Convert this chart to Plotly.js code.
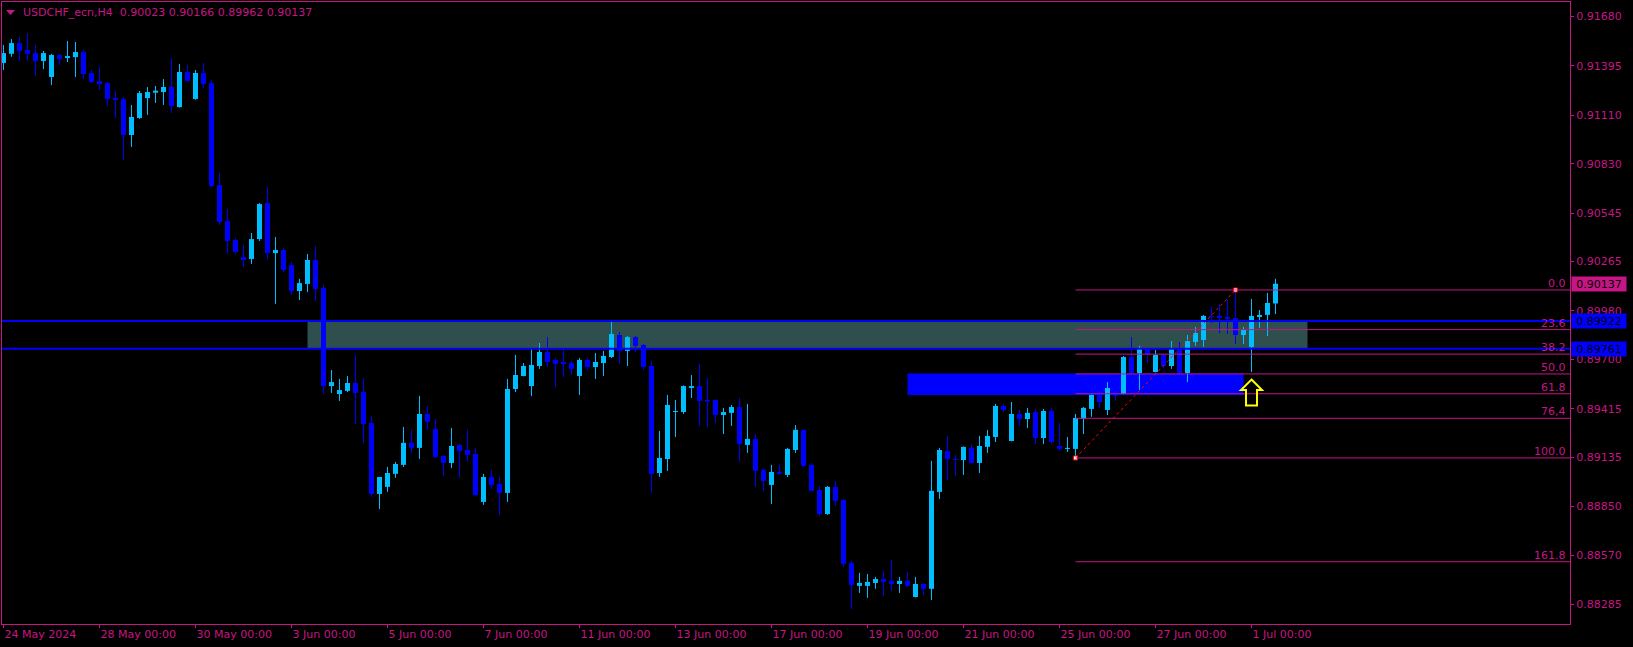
<!DOCTYPE html>
<html><head><meta charset="utf-8">
<script src="https://cdn.plot.ly/plotly-3.0.1.min.js"></script>
<style>html,body{margin:0;padding:0;background:#000;} #chart{width:1633px;height:647px;}</style>
</head><body><div id="chart"></div>
<script>
const symbolName = "USDCHF_ecn,H4";

const opens = [0.91412,0.91465,0.91527,0.91487,0.91469,0.91423,0.91331,0.91458,0.91440,0.91446,
0.91475,0.91354,0.91307,0.91296,0.91209,0.91204,0.90996,0.91094,0.91209,0.91240,
0.91244,0.91273,0.91157,0.91360,0.91204,0.91354,0.91296,0.90707,0.90499,0.90389,
0.90291,0.90280,0.90395,0.90603,0.90314,0.90332,0.90245,0.90095,0.90136,0.90274,
0.90112,0.89546,0.89500,0.89518,0.89564,0.89512,0.89333,0.88923,0.88964,0.89039,
0.89091,0.89218,0.89189,0.89385,0.89298,0.89143,0.89102,0.89206,0.89177,0.89154,
0.88877,0.89021,0.88981,0.88929,0.89529,0.89604,0.89546,0.89662,0.89743,0.89697,
0.89685,0.89679,0.89604,0.89697,0.89656,0.89679,0.89714,0.89841,0.89749,0.89829,
0.89783,0.89662,0.89044,0.89125,0.89396,0.89396,0.89535,0.89546,0.89466,0.89466,
0.89379,0.89391,0.89425,0.89206,0.89241,0.89062,0.88975,0.89050,0.89033,0.89177,
0.89293,0.89091,0.88946,0.88807,0.88964,0.88888,0.88525,0.88392,0.88392,0.88409,
0.88432,0.88421,0.88403,0.88421,0.88328,0.88403,0.88375,0.88935,0.89171,0.89125,
0.89119,0.89189,0.89102,0.89195,0.89252,0.89431,0.89229,0.89385,0.89356,0.89396,
0.89246,0.89402,0.89200,0.89183,0.89183,0.89356,0.89414,0.89495,0.89408,0.89512,
0.89500,0.89714,0.89621,0.89760,0.89627,0.89726,0.89662,0.89760,0.89621,0.89801,
0.89812,0.89951,0.89951,0.89945,0.89939,0.89841,0.89772,0.89945,0.89957,0.90023];

const highs = [0.91516,0.91550,0.91562,0.91585,0.91516,0.91481,0.91465,0.91465,0.91539,0.91533,
0.91487,0.91371,0.91389,0.91302,0.91250,0.91215,0.91169,0.91250,0.91273,0.91279,
0.91319,0.91440,0.91406,0.91400,0.91371,0.91412,0.91313,0.90776,0.90569,0.90401,
0.90361,0.90430,0.90603,0.90696,0.90407,0.90343,0.90262,0.90165,0.90309,0.90355,
0.90130,0.89639,0.89587,0.89604,0.89726,0.89593,0.89373,0.89021,0.89079,0.89108,
0.89310,0.89293,0.89489,0.89431,0.89356,0.89145,0.89304,0.89212,0.89293,0.89189,
0.89039,0.89062,0.89021,0.89587,0.89726,0.89679,0.89760,0.89795,0.89829,0.89708,
0.89754,0.89691,0.89708,0.89708,0.89737,0.89749,0.89922,0.89858,0.89835,0.89835,
0.89789,0.89691,0.89287,0.89495,0.89466,0.89550,0.89610,0.89673,0.89593,0.89468,
0.89420,0.89437,0.89477,0.89443,0.89269,0.89068,0.89091,0.89091,0.89189,0.89321,
0.89295,0.89102,0.88969,0.88969,0.88998,0.88894,0.88536,0.88467,0.88461,0.88444,
0.88478,0.88542,0.88444,0.88473,0.88444,0.88409,0.89114,0.89189,0.89258,0.89148,
0.89197,0.89206,0.89258,0.89293,0.89443,0.89443,0.89454,0.89408,0.89420,0.89414,
0.89414,0.89420,0.89333,0.89252,0.89385,0.89425,0.89497,0.89497,0.89569,0.89535,
0.89720,0.89829,0.89778,0.89762,0.89754,0.89731,0.89806,0.89801,0.89841,0.89887,
0.89957,0.90003,0.90021,0.90043,0.90101,0.89887,0.90049,0.89985,0.90084,0.90166];

const lows = [0.91371,0.91448,0.91423,0.91423,0.91336,0.91377,0.91284,0.91400,0.91417,0.91331,
0.91319,0.91296,0.91256,0.91163,0.91094,0.90851,0.90927,0.91089,0.91112,0.91181,
0.91169,0.91123,0.91155,0.91305,0.91200,0.91267,0.90696,0.90476,0.90309,0.90309,
0.90234,0.90251,0.90384,0.90280,0.90021,0.90205,0.90072,0.90043,0.90089,0.90038,
0.89500,0.89506,0.89460,0.89512,0.89327,0.89218,0.88906,0.88836,0.88935,0.89016,
0.89079,0.89160,0.89125,0.89293,0.89131,0.89027,0.89073,0.89016,0.89108,0.88912,
0.88860,0.88952,0.88802,0.88877,0.89512,0.89602,0.89489,0.89645,0.89656,0.89541,
0.89598,0.89610,0.89495,0.89639,0.89587,0.89604,0.89708,0.89673,0.89662,0.89743,
0.89639,0.88929,0.89021,0.89056,0.89252,0.89385,0.89477,0.89316,0.89310,0.89333,
0.89269,0.89316,0.89108,0.89160,0.88964,0.88941,0.88865,0.89033,0.89021,0.89160,
0.89079,0.88939,0.88796,0.88802,0.88854,0.88502,0.88259,0.88351,0.88323,0.88375,
0.88334,0.88363,0.88351,0.88386,0.88326,0.88340,0.88311,0.88894,0.89004,0.89027,
0.89033,0.89100,0.89044,0.89160,0.89223,0.89396,0.89227,0.89316,0.89304,0.89212,
0.89212,0.89212,0.89171,0.89166,0.89131,0.89269,0.89368,0.89420,0.89379,0.89460,
0.89498,0.89616,0.89523,0.89679,0.89625,0.89645,0.89645,0.89616,0.89569,0.89778,
0.89772,0.89910,0.89852,0.89847,0.89789,0.89789,0.89627,0.89881,0.89835,0.89962];

const closes = [0.91469,0.91527,0.91481,0.91465,0.91423,0.91469,0.91458,0.91435,0.91452,0.91475,
0.91348,0.91302,0.91290,0.91204,0.91198,0.90996,0.91100,0.91238,0.91244,0.91252,
0.91273,0.91163,0.91360,0.91307,0.91354,0.91290,0.90701,0.90493,0.90384,0.90320,
0.90274,0.90395,0.90597,0.90314,0.90332,0.90216,0.90095,0.90141,0.90274,0.90107,
0.89546,0.89569,0.89523,0.89564,0.89506,0.89327,0.88923,0.89021,0.89044,0.89096,
0.89218,0.89189,0.89385,0.89339,0.89137,0.89102,0.89200,0.89171,0.89148,0.88917,
0.89021,0.88975,0.88929,0.89529,0.89610,0.89662,0.89668,0.89743,0.89685,0.89673,
0.89673,0.89645,0.89697,0.89656,0.89685,0.89720,0.89847,0.89749,0.89829,0.89778,
0.89656,0.89039,0.89131,0.89437,0.89402,0.89546,0.89546,0.89460,0.89458,0.89379,
0.89396,0.89425,0.89212,0.89241,0.89056,0.88998,0.89050,0.89039,0.89183,0.89293,
0.89085,0.88941,0.88807,0.88964,0.88883,0.88519,0.88398,0.88409,0.88415,0.88432,
0.88415,0.88403,0.88421,0.88392,0.88403,0.88375,0.88941,0.89177,0.89125,0.89119,
0.89195,0.89102,0.89200,0.89258,0.89431,0.89408,0.89385,0.89356,0.89391,0.89246,
0.89402,0.89223,0.89183,0.89189,0.89362,0.89420,0.89495,0.89454,0.89535,0.89489,
0.89714,0.89621,0.89760,0.89731,0.89726,0.89662,0.89760,0.89621,0.89806,0.89852,
0.89951,0.89945,0.89939,0.89933,0.89841,0.89870,0.89951,0.89957,0.90026,0.90137];

const dateTickBars = [0,12,24,36,48,60,72,84,96,108,120,132,144,156];
const dateTickLabels = ["24 May 2024","28 May 00:00","30 May 00:00","3 Jun 00:00","5 Jun 00:00",
  "7 Jun 00:00","11 Jun 00:00","13 Jun 00:00","17 Jun 00:00","19 Jun 00:00","21 Jun 00:00",
  "25 Jun 00:00","27 Jun 00:00","1 Jul 00:00"];

const priceTickVals = [0.91680,0.91395,0.91110,0.90830,0.90545,0.90265,0.89980,0.89700,0.89415,0.89135,0.88850,0.88570,0.88285];
const priceTickText = ["0.91680","0.91395","0.91110","0.90830","0.90545","0.90265","0.89980","0.89700","0.89415","0.89135","0.88850","0.88570","0.88285"];

// horizontal levels and zones
const zoneTop = 0.89922, zoneBottom = 0.89761;
const zoneStartBar = 38, zoneEndBar = 163;
const blueBoxTop = 0.89618, blueBoxBottom = 0.89495;
const blueBoxStartBar = 113, blueBoxEndBar = 155;

// Fibonacci retracement anchored on swing low / swing high bars
const fibLowBar = 134, fibHighBar = 154;
const fibLevels = [0, 23.6, 38.2, 50, 61.8, 76.4, 100, 161.8];
const fibLabels = ["0.0","23.6","38.2","50.0","61.8","76,4","100.0","161.8"];

const signalBar = 156;

// ---------------- drawing ----------------
const PINK = '#C71585';
const BULL = '#00BFFF';
const BEAR = '#0000FF';
const FONT = 'DejaVu Sans';
const xRange = [-0.1875, 195.8125];
const yRange = [0.88172, 0.91764];
const minBody = 0.00006;

const idx = opens.map((_, i) => i);
function candleSet(isBull) {
  const bx = [], bbase = [], bh = [], wx = [], wy = [];
  idx.forEach(i => {
    const up = closes[i] >= opens[i];
    if (up !== isBull) return;
    const lo = Math.min(opens[i], closes[i]);
    const hi = Math.max(opens[i], closes[i]);
    bx.push(i); bbase.push(lo); bh.push(Math.max(hi - lo, minBody));
    wx.push(i, i, null); wy.push(lows[i], highs[i], null);
  });
  return {bx, bbase, bh, wx, wy};
}
const bull = candleSet(true), bear = candleSet(false);

const fibHigh = highs[fibHighBar], fibLow = lows[fibLowBar];
const fibPrices = fibLevels.map(l => fibHigh - (fibHigh - fibLow) * l / 100);

const traces = [
  {type:'scatter', mode:'lines', x:bull.wx, y:bull.wy, line:{color:BULL, width:1}, hoverinfo:'skip'},
  {type:'scatter', mode:'lines', x:bear.wx, y:bear.wy, line:{color:BEAR, width:1}, hoverinfo:'skip'},
  {type:'bar', x:bull.bx, base:bull.bbase, y:bull.bh, width:0.625, marker:{color:BULL, line:{width:0}}, hoverinfo:'skip'},
  {type:'bar', x:bear.bx, base:bear.bbase, y:bear.bh, width:0.625, marker:{color:BEAR, line:{width:0}}, hoverinfo:'skip'},
  {type:'scatter', mode:'lines+markers', x:[fibLowBar, fibHighBar], y:[fibLow, fibHigh],
   line:{color:'#FF0000', width:1, dash:'dot'},
   marker:{symbol:'square', size:4, color:'#FFFFFF', line:{color:'#FF0000', width:1}}, hoverinfo:'skip'}
];

const shapes = [];
// gray zone
shapes.push({type:'rect', xref:'x', yref:'y', x0:zoneStartBar, x1:zoneEndBar, y0:zoneBottom, y1:zoneTop,
  fillcolor:'#2F4F4F', line:{width:0}, layer:'below'});
// blue box
shapes.push({type:'rect', xref:'x', yref:'y', x0:blueBoxStartBar, x1:blueBoxEndBar, y0:blueBoxBottom, y1:blueBoxTop,
  fillcolor:'#0000FF', line:{width:0}, layer:'below'});
// fib lines
fibPrices.forEach(p => shapes.push({type:'line', xref:'x', yref:'y', x0:fibLowBar, x1:xRange[1], y0:p, y1:p,
  line:{color:PINK, width:1}, layer:'above'}));
// blue horizontal lines
[zoneTop, zoneBottom].forEach(p => shapes.push({type:'line', xref:'paper', yref:'y', x0:0, x1:1, y0:p, y1:p,
  line:{color:'#0000FF', width:2}, layer:'above'}));
// signal arrow (pixel-sized, anchored under the signal bar low)
shapes.push({type:'path', xref:'x', yref:'y', xsizemode:'pixel', ysizemode:'pixel',
  xanchor:signalBar, yanchor:lows[signalBar],
  path:'M0,-7.5 L10.5,-18 L5.5,-18 L5.5,-33.5 L-5.5,-33.5 L-5.5,-18 L-10.5,-18 Z',
  line:{color:'#FFFF00', width:2}, fillcolor:'rgba(0,0,0,0)', layer:'above'});
// header triangle
shapes.push({type:'path', xref:'paper', yref:'paper', xsizemode:'pixel', ysizemode:'pixel',
  xanchor:0, yanchor:1, path:'M4,-8 L13,-8 L8.5,-13 Z', fillcolor:PINK, line:{width:0}});

const annotations = [];
const last = opens.length - 1;
const f5 = v => v.toFixed(5);
annotations.push({xref:'paper', yref:'paper', x:0, y:1, xanchor:'left', yanchor:'middle', xshift:19, yshift:-10,
  showarrow:false, text: symbolName + '\u00A0\u00A0' + [opens[last], highs[last], lows[last], closes[last]].map(f5).join(' '),
  font:{family:FONT, size:11, color:PINK}});
fibPrices.forEach((p, k) => annotations.push({xref:'paper', yref:'y', x:1, y:p, xanchor:'right', yanchor:'bottom',
  xshift:-2, yshift:-2, showarrow:false, text:fibLabels[k], font:{family:FONT, size:11, color:PINK}}));
// price labels on the axis
[[closes[last], PINK], [zoneTop, '#0000FF'], [zoneBottom, '#0000FF']].forEach(([p, c]) =>
  annotations.push({xref:'paper', yref:'y', x:1, y:p, xanchor:'left', yanchor:'middle', xshift:1,
    showarrow:false, text:f5(p), bgcolor:c, width:52, height:12, borderpad:1, align:'center',
    font:{family:FONT, size:11, color:'#000000'}}));

const layout = {
  width:1633, height:647, margin:{l:2, r:63, t:2, b:23},
  paper_bgcolor:'#000000', plot_bgcolor:'#000000', showlegend:false, barmode:'overlay',
  xaxis:{range:xRange, showgrid:false, zeroline:false, showline:true, mirror:true, linecolor:PINK, linewidth:1,
    ticks:'outside', ticklen:3, tickcolor:PINK, tickmode:'array', tickvals:dateTickBars, ticktext:dateTickLabels,
    ticklabelposition:'outside right', tickfont:{family:FONT, size:11, color:PINK}, fixedrange:true},
  yaxis:{range:yRange, side:'right', showgrid:false, zeroline:false, showline:true, mirror:true, linecolor:PINK, linewidth:1,
    ticks:'outside', ticklen:3, tickcolor:PINK, tickmode:'array', tickvals:priceTickVals, ticktext:priceTickText,
    tickfont:{family:FONT, size:11, color:PINK}, fixedrange:true},
  shapes:shapes, annotations:annotations
};

Plotly.newPlot('chart', traces, layout, {staticPlot:true, displayModeBar:false});
</script>
</body></html>
